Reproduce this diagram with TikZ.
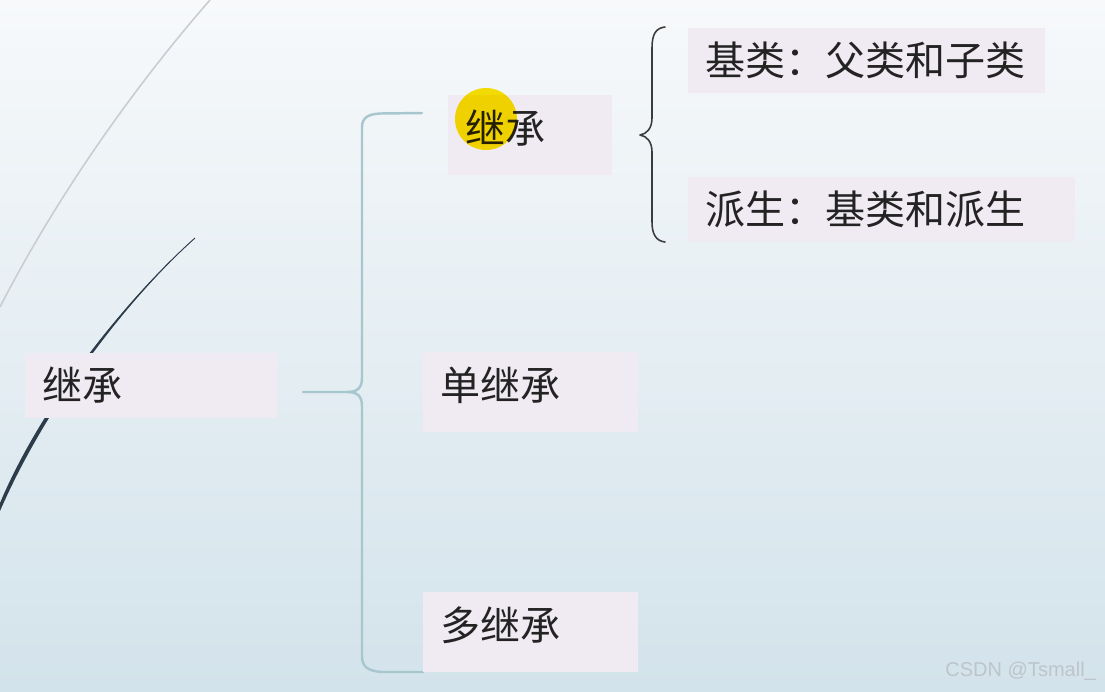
\documentclass[tikz,border=0pt]{standalone}
\usepackage{fontspec}
\newfontfamily\cjk{Noto Sans CJK SC}
\newfontfamily\wmfont{Liberation Sans}
\usepackage{tikz}
\usetikzlibrary{calc}

\definecolor{bgtop}{RGB}{247,249,251}
\definecolor{bgbot}{RGB}{211,227,235}
\definecolor{boxfill}{RGB}{240,234,242}
\definecolor{textcol}{RGB}{35,35,35}
\definecolor{bracecol}{RGB}{168,198,206}
\definecolor{bracedark}{RGB}{60,60,60}
\definecolor{arclight}{RGB}{200,205,210}
\definecolor{arcdark}{RGB}{45,60,75}
\definecolor{hilite}{RGB}{255,228,0}
\definecolor{wmcol}{RGB}{190,196,202}

\tikzset{
  box/.style={fill=boxfill, inner ysep=0pt, inner xsep=0.35cm, align=left,
    font=\cjk\fontsize{22.8}{24}\selectfont, text=textcol,
    text height=0.704cm, text depth=0.096cm, minimum height=1.3cm},
  tallbox/.style={box, minimum height=1.6cm, text depth=0.376cm},
  bigbrace/.style={draw=bracecol, line width=1.4pt, line cap=round, line join=round},
  smallbrace/.style={draw=bracedark, line width=0.9pt, line cap=round, line join=round},
}

\begin{document}
\begin{tikzpicture}[x=0.02cm, y=-0.02cm]

  % ---------- fundo ----------
  \useasboundingbox (0,0) rectangle (1105,691);
  \shade[top color=bgtop, bottom color=bgbot] (0,0) rectangle (1105,691);

  % ---------- arcos decorativos ----------
  \draw[arclight, line width=0.9pt] (210,0) .. controls (140,80) and (60,190) .. (0,307);
  \fill[arcdark] (195,238) .. controls (120,305) and (40,408) .. (0,503)
    -- (0,511) .. controls (44,410) and (121,306) .. (195,238) -- cycle;
  \draw[arcdark, line width=0.5pt] (195,238) .. controls (120,305) and (42,409) .. (0,507);

  % ---------- chave grande ----------
  \coordinate (bn) at (303,392);
  \coordinate (bt) at (422,113);
  \coordinate (bb) at (423,672);
  \draw[bigbrace] (bn) -- (348,392) .. controls (357,392) and (362,388) .. (362,378)
    -- (362,127) .. controls (362,118) and (368,114) .. (380,113.5) -- (bt);
  \draw[bigbrace] (348,392) .. controls (357,392) and (362,396) .. (362,406)
    -- (362,656) .. controls (362,667) and (368,671) .. (382,672) -- (bb);

  % ---------- chave pequena ----------
  \coordinate (st) at (665,27);
  \coordinate (sn) at (640,135);
  \coordinate (sb) at (665,242);
  \draw[smallbrace] (st) .. controls (656,28) and (652,34) .. (652,48) -- (652,118)
    .. controls (652,128) and (647,134) .. (sn)
    .. controls (647,136) and (652,142) .. (652,152) -- (652,222)
    .. controls (652,234) and (656,241) .. (sb);

  % ---------- caixas ----------
  \node[box, text width=4.36cm] (root) at (151,385.5) {继承};
  \node[tallbox, text width=2.58cm] (inh) at (530,135) {继承};
  \node[tallbox, text width=3.60cm] (single) at (530.5,392) {单继承};
  \node[tallbox, text width=3.60cm] (multi) at (530.5,632) {多继承};
  \node[box, text width=6.44cm] (base) at (866.5,60) {基类：父类和子类};
  \node[box, text width=7.04cm] (derive) at (881.5,209) {派生：基类和派生};

  % cursor
  \fill[hilite, blend mode=multiply] (486,119) circle (31);

  \node[font=\wmfont\fontsize{11.4}{13}\selectfont, text=wmcol, inner sep=0pt, anchor=base west]
    (wm) at (945,676) {CSDN @Tsmall\_};

\end{tikzpicture}
\end{document}
